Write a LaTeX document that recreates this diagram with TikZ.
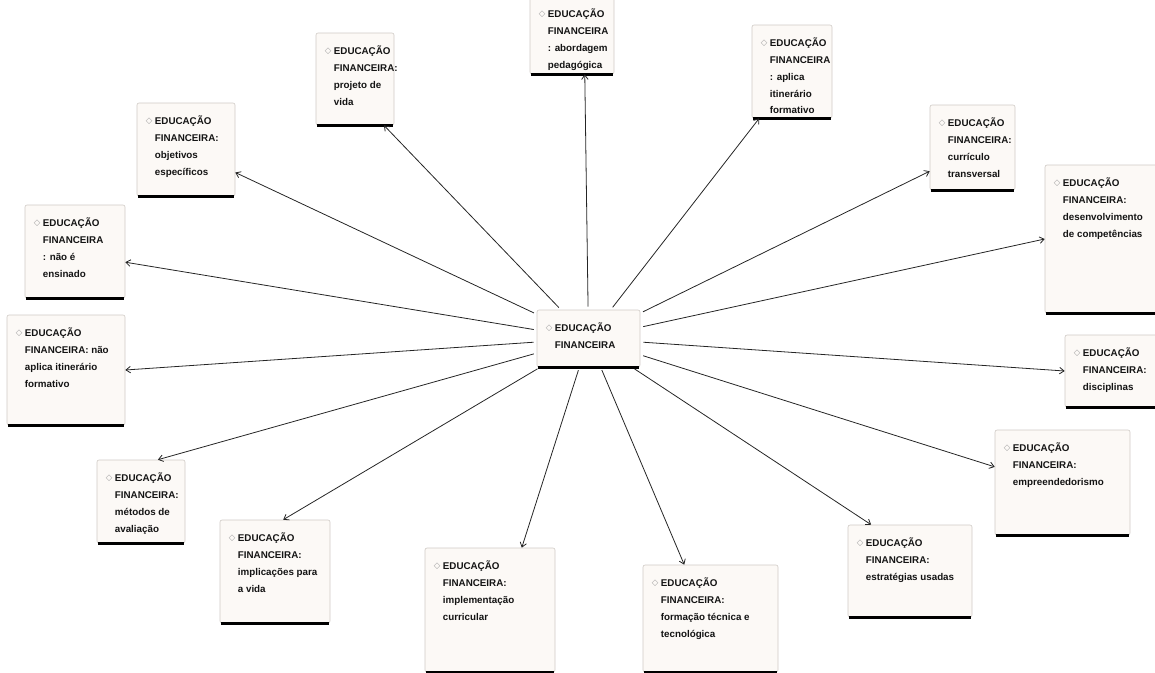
\documentclass[tikz,border=0pt]{standalone}
\usepackage{fontspec}
\setmainfont{Liberation Sans}
\newfontfamily\symfont{DejaVu Sans}
\usetikzlibrary{fit,arrows.meta}

\definecolor{cardfill}{HTML}{FCF9F6}
\definecolor{cardedge}{HTML}{CFCAC5}
\definecolor{inkline}{HTML}{252525}
\definecolor{icongray}{HTML}{A0A0A0}

\tikzset{
  card/.style={draw=cardedge, line width=0.6pt, fill=cardfill, rounded corners=2pt, inner sep=0pt},
  cardbase/.style={draw=black, line width=2.8pt},
  cardtext/.style={inner sep=0pt, align=left, text=black!92,
    font=\fontsize{9.8}{16.8}\selectfont\bfseries},
  cardicon/.style={inner sep=0pt, text=icongray, font=\symfont\fontsize{8.5}{8.5}\selectfont},
  conn/.style={draw=inkline, line width=0.8pt, shorten <=3pt,
    -{Straight Barb[length=4.5pt,width=6.5pt]}}
}

% #1 name, #2 left, #3 top, #4 right, #5 bottom, #6 lines of text
\newcommand\educard[6]{%
  \node[card, fit={(#2,#3)(#4,#5)}] (#1) {};
  \draw[cardbase] ([xshift=1.5pt]#1.south west) -- ([xshift=-1pt]#1.south east);
  \node[cardtext, anchor=north west] (#1-t) at ([xshift=18pt,yshift=-13pt]#1.north west) {#6};
  \node[cardicon, anchor=east] (#1-i) at ([xshift=-2pt,yshift=-5.8pt]#1-t.north west) {◇};
}

\begin{document}
\begin{tikzpicture}[x=1pt,y=-1pt]
\useasboundingbox (0,0) rectangle (1155,672);

% hub
\educard{ctr}{537}{310}{640}{367}{EDUCAÇÃO\\FINANCEIRA}

% surrounding topics
\educard{obj}{137}{103}{235}{196}{EDUCAÇÃO\\FINANCEIRA:\\objetivos\\específicos}
\educard{proj}{316}{33}{394}{125}{EDUCAÇÃO\\FINANCEIRA:\\projeto de\\vida}
\educard{abord}{530}{-4}{614}{74}{EDUCAÇÃO\\FINANCEIRA\\: abordagem\\pedagógica}
\educard{apl}{752}{25}{832}{118}{EDUCAÇÃO\\FINANCEIRA\\: aplica\\itinerário\\formativo}
\educard{curr}{930}{105}{1015}{190}{EDUCAÇÃO\\FINANCEIRA:\\currículo\\transversal}
\educard{desenv}{1045}{165}{1160}{313}{EDUCAÇÃO\\FINANCEIRA:\\desenvolvimento\\de competências}
\educard{naoe}{25}{205}{125}{298}{EDUCAÇÃO\\FINANCEIRA\\: não é\\ensinado}
\educard{naoapl}{7}{315}{125}{425}{EDUCAÇÃO\\FINANCEIRA: não\\aplica itinerário\\formativo}
\educard{disc}{1065}{335}{1160}{407}{EDUCAÇÃO\\FINANCEIRA:\\disciplinas}
\educard{empr}{995}{430}{1130}{535}{EDUCAÇÃO\\FINANCEIRA:\\empreendedorismo}
\educard{estr}{848}{525}{972}{617}{EDUCAÇÃO\\FINANCEIRA:\\estratégias usadas}
\educard{form}{643}{565}{778}{672}{EDUCAÇÃO\\FINANCEIRA:\\formação técnica e\\tecnológica}
\educard{impl}{425}{548}{555}{672}{EDUCAÇÃO\\FINANCEIRA:\\implementação\\curricular}
\educard{impv}{220}{520}{330}{623}{EDUCAÇÃO\\FINANCEIRA:\\implicações para\\a vida}
\educard{met}{97}{460}{185}{543}{EDUCAÇÃO\\FINANCEIRA:\\métodos de\\avaliação}

% connectors from the hub
\draw[conn] (ctr) -- (obj.-25);
\draw[conn] (ctr) -- (proj.-58);
\draw[conn] (ctr) -- (abord.-72);
\draw[conn] (ctr) -- (apl.235);
\draw[conn] (ctr) -- (curr.209);
\draw[conn] (ctr) -- (desenv.west);
\draw[conn] (ctr) -- (naoe.-12);
\draw[conn] (ctr) -- (naoapl.east);
\draw[conn] (ctr) -- (disc.west);
\draw[conn] (ctr) -- (empr.167);
\draw[conn] (ctr) -- (met.68);
\draw[conn] (ctr) -- (impv.81);
\draw[conn] (ctr) -- (impl.63);
\draw[conn] (ctr) -- (form.116);
\draw[conn] (ctr) -- (estr.130);
\end{tikzpicture}
\end{document}
